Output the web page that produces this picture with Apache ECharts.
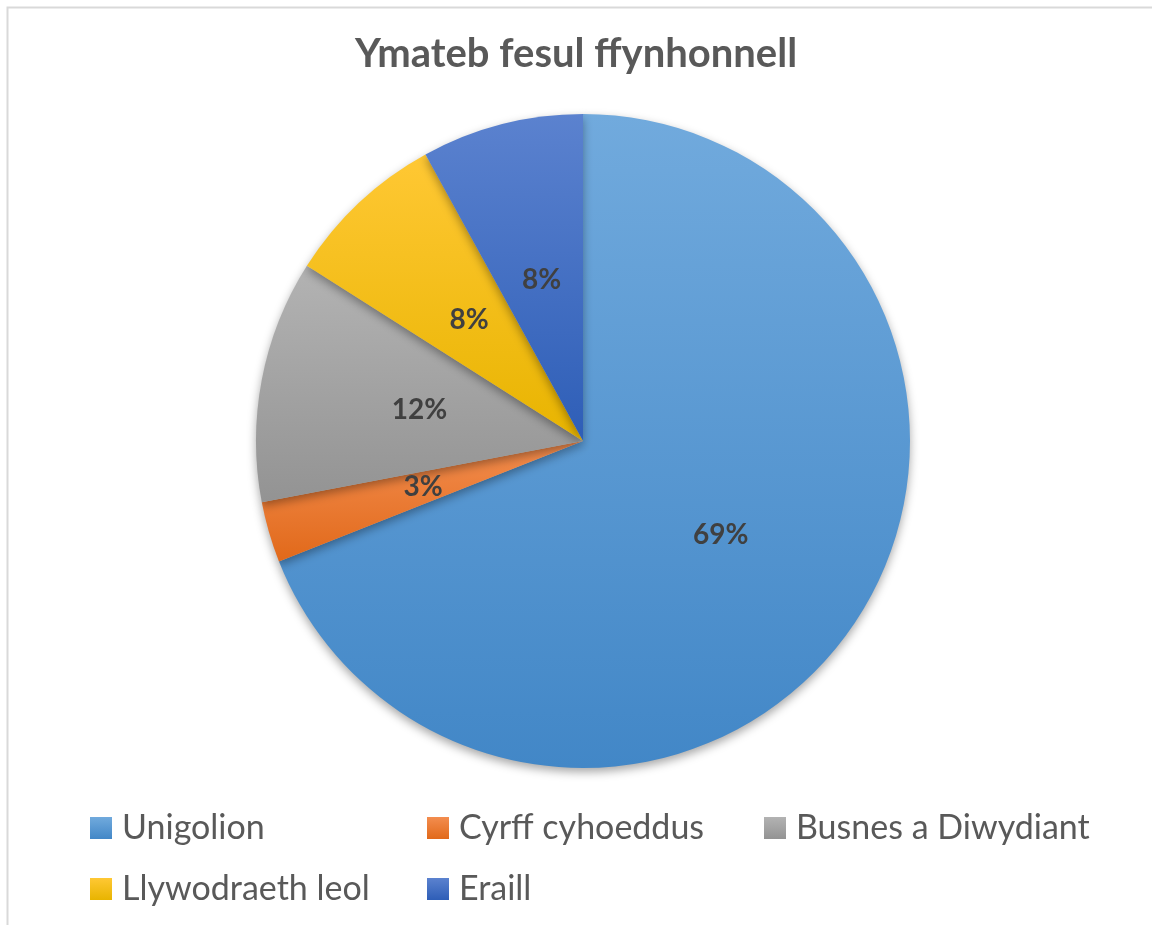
<!DOCTYPE html>
<html>
<head>
<meta charset="utf-8">
<script src="https://cdn.jsdelivr.net/npm/echarts@6/dist/echarts.min.js"></script>
<style>
html,body{margin:0;padding:0;background:#fff;}
#chart{width:1152px;height:925px;}
</style>
</head>
<body>
<div id="chart"></div>
<script>
const titleText = 'Ymateb fesul ffynhonnell';
const categories = ['Unigolion', 'Cyrff cyhoeddus', 'Busnes a Diwydiant', 'Llywodraeth leol', 'Eraill'];
const values = [69, 3, 12, 8, 8];
const topColors = ['#71aadd', '#f38d4f', '#b3b3b3', '#ffc834', '#5b82cf'];
const bottomColors = ['#4287c7', '#e1691a', '#939393', '#e8b400', '#2e5eb7'];

function grad(i) {
  return new echarts.graphic.LinearGradient(0, 0, 0, 1, [
    { offset: 0, color: topColors[i] },
    { offset: 1, color: bottomColors[i] }
  ]);
}

const chart = echarts.init(document.getElementById('chart'), null, { renderer: 'canvas' });

const legendPos = [
  { left: 90, top: 808 },
  { left: 427, top: 808 },
  { left: 764, top: 808 },
  { left: 90, top: 869 },
  { left: 427, top: 869 }
];

const legends = categories.map((c, i) => ({
  data: [c],
  left: legendPos[i].left,
  top: legendPos[i].top,
  padding: 0,
  icon: 'rect',
  itemWidth: 22,
  itemHeight: 22,
  itemGap: 0,
  selectedMode: false,
  textStyle: {
    fontFamily: 'Lato',
    fontSize: 34,
    color: '#595959',
    lineHeight: 40,
    padding: [0, 0, 0, 5]
  }
}));

chart.setOption({
  animation: false,
  backgroundColor: '#ffffff',
  title: {
    text: titleText,
    left: 'center',
    top: 34,
    padding: 0,
    textStyle: {
      fontFamily: 'Lato',
      fontWeight: 'bold',
      fontSize: 40,
      color: '#595959'
    }
  },
  legend: legends,
  graphic: [{
    type: 'rect',
    shape: { x: 7.5, y: 7.5, width: 1300, height: 1100 },
    style: { fill: 'none', stroke: '#d9d9d9', lineWidth: 2 },
    silent: true,
    z: -1
  }],
  series: [{
    type: 'pie',
    center: [583, 441],
    radius: [0, 327],
    startAngle: 90,
    clockwise: true,
    silent: true,
    avoidLabelOverlap: false,
    emphasis: { disabled: true },
    itemStyle: {
      borderWidth: 0,
      shadowBlur: 10,
      shadowOffsetY: 4,
      shadowColor: 'rgba(0,0,0,0.35)'
    },
    label: {
      show: true,
      position: 'inside',
      formatter: p => Math.round(p.percent) + '%',
      fontFamily: 'Lato',
      fontWeight: 'bold',
      fontSize: 28,
      color: '#404040'
    },
    labelLine: { show: false },
    data: categories.map((c, i) => ({
      name: c,
      value: values[i],
      itemStyle: { color: grad(i) }
    }))
  }]
});
</script>
</body>
</html>
